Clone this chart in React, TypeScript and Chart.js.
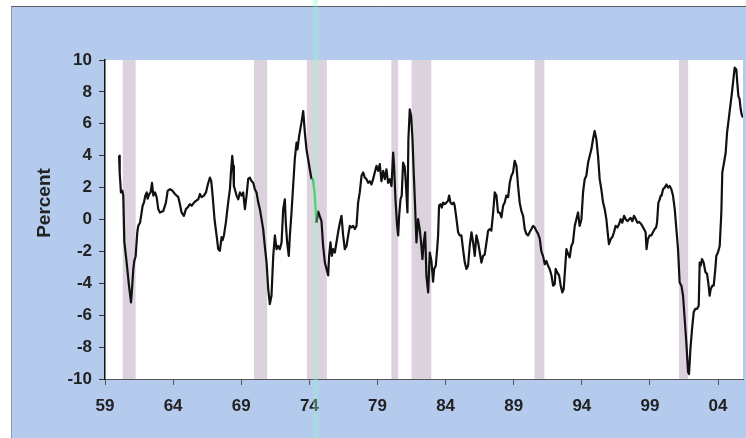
import React, { useEffect, useRef } from 'react';
import { Chart, registerables } from 'chart.js';

Chart.register(...registerables);

// decimal years of the readings
const dates = [
  1960.03, 1960.08, 1960.17, 1960.27, 1960.34, 1960.42, 1960.59, 1960.76, 1960.91, 1961.0,
  1961.08, 1961.15, 1961.25, 1961.37, 1961.44, 1961.57, 1961.67, 1961.76, 1961.86, 1961.96,
  1962.06, 1962.13, 1962.25, 1962.35, 1962.45, 1962.55, 1962.67, 1962.79, 1962.91, 1963.03,
  1963.28, 1963.47, 1963.6, 1963.77, 1963.96, 1964.13, 1964.38, 1964.5, 1964.62, 1964.79,
  1964.94, 1965.06, 1965.23, 1965.36, 1965.53, 1965.67, 1965.85, 1965.97, 1966.09, 1966.26,
  1966.41, 1966.55, 1966.7, 1966.8, 1966.9, 1967.04, 1967.19, 1967.31, 1967.43, 1967.56,
  1967.63, 1967.73, 1967.87, 1968.04, 1968.17, 1968.24, 1968.34, 1968.41, 1968.46, 1968.56,
  1968.66, 1968.78, 1968.9, 1969.02, 1969.14, 1969.27, 1969.39, 1969.51, 1969.63, 1969.76,
  1969.88, 1970.0, 1970.12, 1970.25, 1970.37, 1970.49, 1970.61, 1970.73, 1970.86, 1970.98,
  1971.1, 1971.22, 1971.35, 1971.47, 1971.59, 1971.71, 1971.83, 1971.96, 1972.08, 1972.2,
  1972.27, 1972.37, 1972.49, 1972.57, 1972.69, 1972.81, 1972.93, 1973.06, 1973.13, 1973.25,
  1973.42, 1973.55, 1973.67, 1973.79, 1973.91, 1974.03, 1974.16, 1974.28, 1974.4, 1974.52,
  1974.65, 1974.77, 1974.89, 1975.01, 1975.14, 1975.26, 1975.38, 1975.45, 1975.55, 1975.65,
  1975.75, 1975.87, 1975.99, 1976.11, 1976.24, 1976.36, 1976.48, 1976.6, 1976.73, 1976.85,
  1976.97, 1977.09, 1977.21, 1977.34, 1977.46, 1977.58, 1977.7, 1977.83, 1977.95, 1978.07,
  1978.19, 1978.32, 1978.44, 1978.56, 1978.68, 1978.8, 1978.93, 1979.05, 1979.17, 1979.29,
  1979.42, 1979.54, 1979.66, 1979.78, 1979.9, 1980.03, 1980.15, 1980.22, 1980.32, 1980.44,
  1980.52, 1980.59, 1980.69, 1980.78, 1980.88, 1981.0, 1981.08, 1981.2, 1981.27, 1981.37,
  1981.47, 1981.57, 1981.66, 1981.76, 1981.86, 1981.98, 1982.1, 1982.2, 1982.3, 1982.4,
  1982.5, 1982.59, 1982.72, 1982.84, 1982.96, 1983.08, 1983.16, 1983.28, 1983.38, 1983.45,
  1983.52, 1983.62, 1983.72, 1983.82, 1983.94, 1984.06, 1984.18, 1984.26, 1984.36, 1984.48,
  1984.6, 1984.67, 1984.8, 1984.92, 1985.04, 1985.16, 1985.28, 1985.41, 1985.53, 1985.65,
  1985.77, 1985.9, 1986.02, 1986.14, 1986.26, 1986.39, 1986.51, 1986.63, 1986.75, 1986.87,
  1987.0, 1987.12, 1987.24, 1987.36, 1987.49, 1987.61, 1987.73, 1987.85, 1987.97, 1988.1,
  1988.22, 1988.34, 1988.46, 1988.59, 1988.71, 1988.83, 1988.95, 1989.07, 1989.2, 1989.32,
  1989.44, 1989.56, 1989.69, 1989.81, 1989.93, 1990.05, 1990.17, 1990.3, 1990.42, 1990.54,
  1990.66, 1990.79, 1990.91, 1991.03, 1991.15, 1991.28, 1991.4, 1991.52, 1991.64, 1991.77,
  1991.89, 1992.01, 1992.08, 1992.18, 1992.33, 1992.45, 1992.57, 1992.67, 1992.77, 1992.87,
  1992.99, 1993.11, 1993.23, 1993.35, 1993.48, 1993.6, 1993.72, 1993.84, 1993.97, 1994.09,
  1994.21, 1994.33, 1994.46, 1994.58, 1994.7, 1994.82, 1994.94, 1995.07, 1995.19, 1995.31,
  1995.43, 1995.56, 1995.68, 1995.8, 1995.92, 1995.99, 1996.12, 1996.24, 1996.36, 1996.48,
  1996.61, 1996.73, 1996.85, 1996.97, 1997.1, 1997.22, 1997.34, 1997.46, 1997.58, 1997.71,
  1997.83, 1997.95, 1998.07, 1998.2, 1998.32, 1998.44, 1998.56, 1998.68, 1998.75, 1998.85,
  1998.98, 1999.1, 1999.22, 1999.35, 1999.45, 1999.52, 1999.62, 1999.72, 1999.79, 1999.86,
  1999.96, 2000.08, 2000.21, 2000.33, 2000.45, 2000.57, 2000.69, 2000.82, 2000.94, 2001.06,
  2001.18, 2001.31, 2001.43, 2001.55, 2001.67, 2001.8, 2001.87, 2001.97, 2002.09, 2002.21,
  2002.33, 2002.46, 2002.58, 2002.65, 2002.72, 2002.82, 2002.94, 2003.07, 2003.19, 2003.31,
  2003.38, 2003.46, 2003.58, 2003.68, 2003.8, 2003.87, 2003.99, 2004.12, 2004.24, 2004.31,
  2004.44, 2004.56, 2004.66, 2004.78, 2004.9, 2005.02, 2005.15, 2005.22, 2005.34, 2005.41,
  2005.49, 2005.58, 2005.66, 2005.73, 2005.83,
];

// percent
const spread = [
  4.0, 2.9, 1.7, 1.8, 1.5, -1.4, -2.7, -4.15, -5.2, -4.15,
  -3.1, -2.6, -2.3, -0.8, -0.4, -0.2, 0.33, 0.86, 1.06, 1.5,
  1.7, 1.3, 1.6, 1.7, 2.3, 1.5, 1.7, 1.4, 0.65, 0.44,
  0.54, 1.06, 1.8, 1.9, 1.8, 1.6, 1.4, 0.96, 0.44, 0.23,
  0.65, 0.75, 0.96, 0.86, 1.06, 1.17, 1.27, 1.6, 1.4, 1.5,
  1.7, 2.2, 2.63, 2.4, 1.5, 0.0, -1.0, -1.86, -1.96, -1.1,
  -1.3, -1.0, -0.2, 1.06, 1.9, 2.9, 3.99, 3.36, 2.1, 1.8,
  1.5, 1.27, 1.7, 1.5, 1.7, 0.65, 1.5, 2.53, 2.63, 2.4,
  2.3, 1.9, 1.7, 1.06, 0.65, 0.02, -0.6, -1.66, -2.7, -4.36,
  -5.3, -4.78, -2.28, -1.0, -1.86, -1.66, -1.86, -1.44, 0.65, 1.27,
  -0.2, -1.44, -2.28, -1.0, 0.44, 2.1, 3.78, 4.82, 4.4, 5.24,
  6.07, 6.8, 5.45, 4.4, 3.78, 3.15, 2.53, 2.5, 1.5, -0.2,
  0.5, 0.2, -0.1, -1.66, -2.7, -3.1, -3.5, -2.28, -1.44, -2.28,
  -1.86, -2.07, -1.44, -0.8, -0.2, 0.23, -1.0, -1.86, -1.66, -1.0,
  -0.4, -0.5, -0.4, -0.6, -0.4, 1.06, 1.7, 2.74, 2.95, 2.63,
  2.53, 2.3, 2.4, 2.2, 2.53, 2.95, 3.36, 3.05, 3.47, 2.4,
  3.05, 2.53, 3.15, 2.3, 2.53, 2.1, 4.2, 3.36, 1.27, -0.4,
  -1.0, 0.23, 1.27, 1.5, 3.57, 3.3, 2.3, 0.44, 5.03, 6.9,
  6.49, 5.03, 2.95, 0.86, -1.44, 0.02, -0.6, -1.44, -2.48, -1.44,
  -0.8, -3.5, -4.57, -2.07, -2.6, -3.9, -3.1, -2.9, -1.86, -1.0,
  0.86, 0.96, 0.75, 1.06, 0.96, 1.06, 1.17, 1.5, 1.06, 0.96,
  1.06, 0.86, 0.02, -0.8, -1.0, -1.0, -1.86, -2.7, -3.1, -2.9,
  -1.66, -0.8, -1.44, -2.28, -1.0, -1.44, -2.07, -2.7, -2.28, -2.2,
  -1.44, -0.7, -0.6, -0.7, 0.44, 1.7, 1.5, 0.44, 0.44, 0.13,
  0.86, 1.06, 1.5, 1.4, 2.3, 2.74, 2.95, 3.67, 3.36, 2.1,
  1.06, 0.54, 0.23, -0.6, -0.9, -1.0, -0.8, -0.6, -0.4, -0.5,
  -0.7, -0.9, -1.2, -2.0, -2.28, -2.8, -2.6, -2.9, -3.1, -3.5,
  -4.15, -4.05, -3.1, -3.3, -3.5, -4.15, -4.57, -4.36, -3.1, -1.86,
  -2.17, -2.38, -1.66, -1.44, -0.4, 0.02, 0.44, -0.4, 0.02, 1.7,
  2.53, 2.74, 3.57, 3.99, 4.4, 5.03, 5.55, 5.03, 3.99, 2.53,
  1.9, 1.06, 0.65, 0.02, -1.0, -1.55, -1.23, -1.1, -0.8, -0.4,
  -0.5, -0.3, 0.02, -0.2, 0.23, 0.02, -0.1, 0.0, 0.1, -0.1,
  0.23, 0.05, -0.2, -0.15, -0.25, -0.4, -0.6, -0.8, -1.86, -1.23,
  -1.0, -1.0, -0.8, -0.6, -0.5, -0.2, 1.06, 1.27, 1.5, 1.5,
  1.9, 2.0, 2.2, 2.0, 2.1, 1.9, 1.5, 0.65, -0.6, -1.86,
  -3.95, -4.15, -4.78, -6.24, -7.7, -9.58, -9.69, -8.1, -6.87, -5.82,
  -5.6, -5.6, -5.4, -2.7, -2.9, -2.48, -2.7, -3.3, -3.4, -4.15,
  -4.78, -4.36, -4.15, -4.15, -3.1, -2.28, -2.07, -1.66, 0.44, 2.95,
  3.57, 4.2, 5.45, 6.28, 7.12, 7.95, 9.0, 9.52, 9.41, 8.58,
  7.75, 7.54, 6.91, 6.6, 6.39,
];

// shaded recession periods [start, end]
const recessions: [number, number][] = [
  [1960.3, 1961.25],
  [1969.93, 1970.9],
  [1973.82, 1975.28],
  [1980.02, 1980.52],
  [1981.5, 1982.95],
  [1990.53, 1991.25],
  [2001.13, 2001.8],
];

const xTickYears = [1959, 1964, 1969, 1974, 1979, 1984, 1989, 1994, 1999, 2004];
const yAxisTitle = 'Percent';

const FONT = '"Liberation Sans", Arial, sans-serif';
const BLUE = '#b4cbee';
const BAND = '#dcd2de';

const backdrop = {
  id: 'backdrop',
  beforeDraw(chart: any) {
    const { ctx, chartArea, scales } = chart;
    const { width, height } = chart;
    ctx.save();
    ctx.fillStyle = '#ffffff';
    ctx.fillRect(0, 0, width, height);
    ctx.fillStyle = BLUE;
    ctx.fillRect(12, 6, width - 12, height - 6);
    ctx.strokeStyle = '#8d99b0';
    ctx.lineWidth = 1;
    ctx.beginPath();
    ctx.moveTo(11.5, 6);
    ctx.lineTo(11.5, height);
    ctx.stroke();
    ctx.strokeStyle = '#5a5f68';
    ctx.beginPath();
    ctx.moveTo(11, 6.5);
    ctx.lineTo(width, 6.5);
    ctx.stroke();

    ctx.fillStyle = '#ffffff';
    ctx.fillRect(chartArea.left, chartArea.top, chartArea.right - chartArea.left, chartArea.bottom - chartArea.top);

    const x = scales.x;
    ctx.fillStyle = BAND;
    recessions.forEach(([a, b]) => {
      const x0 = x.getPixelForValue(a);
      const x1 = x.getPixelForValue(b);
      ctx.fillRect(x0, chartArea.top, x1 - x0, chartArea.bottom - chartArea.top);
    });
    ctx.restore();
  },
  afterDraw(chart: any) {
    const { ctx, scales, height } = chart;
    ctx.save();
    // y-axis title
    ctx.translate(45, 203);
    ctx.rotate(-Math.PI / 2);
    ctx.font = `bold 19px ${FONT}`;
    ctx.fillStyle = '#222';
    ctx.textAlign = 'center';
    ctx.textBaseline = 'middle';
    ctx.fillText(yAxisTitle, 0, 0);
    ctx.restore();

    // faint scan streak
    ctx.save();
    const sx = scales.x.getPixelForValue(1974.45);
    ctx.fillStyle = 'rgba(150, 245, 200, 0.35)';
    ctx.fillRect(sx - 2.5, 0, 5, height);
    ctx.restore();
  },
};

const App: React.FC = () => {
  const chartRef = useRef<HTMLCanvasElement>(null);
  const chartInstance = useRef<Chart | null>(null);

  useEffect(() => {
    if (!chartRef.current) return;
    if (chartInstance.current) {
      chartInstance.current.destroy();
    }
    const ctx = chartRef.current.getContext('2d');
    if (!ctx) return;

    const points = dates.map((d, i) => ({ x: d, y: spread[i] }));

    chartInstance.current = new Chart(ctx, {
      type: 'line',
      data: {
        datasets: [
          {
            data: points,
            borderColor: '#111111',
            borderWidth: 2.2,
            borderJoinStyle: 'round',
            pointRadius: 0,
            tension: 0,
            segment: {
              // green stretch where the scan streak crosses the line
              borderColor: (c: any) =>
                c.p0.parsed.x >= 1974.15 && c.p1.parsed.x <= 1974.53 ? '#2fb84a' : undefined,
            },
          },
        ],
      },
      options: {
        animation: false,
        responsive: true,
        maintainAspectRatio: false,
        layout: { padding: { left: 12, top: 60, right: 3, bottom: 0 } },
        plugins: {
          legend: { display: false },
          tooltip: { enabled: false },
        },
        scales: {
          x: {
            type: 'linear',
            min: 1959,
            max: 2005.83,
            afterBuildTicks: (scale: any) => {
              scale.ticks = xTickYears.map(v => ({ value: v }));
            },
            afterFit: (scale: any) => {
              scale.height = 59;
            },
            ticks: {
              autoSkip: false,
              maxRotation: 0,
              padding: 11,
              color: '#222',
              font: { family: FONT, size: 17, weight: 'bold' },
              callback: (v: any) => String(Number(v) % 100).padStart(2, '0'),
            },
            grid: { drawOnChartArea: false, tickLength: 6, color: '#555' },
            border: { display: true, color: '#555', width: 1 },
          },
          y: {
            min: -10,
            max: 10,
            afterFit: (scale: any) => {
              scale.width = 93;
            },
            ticks: {
              stepSize: 2,
              padding: 7,
              color: '#222',
              font: { family: FONT, size: 17, weight: 'bold' },
            },
            grid: { drawOnChartArea: false, tickLength: 6, color: '#333' },
            border: { display: true, color: '#111', width: 1.5 },
          },
        },
      },
      plugins: [backdrop],
    });

    return () => {
      if (chartInstance.current) {
        chartInstance.current.destroy();
        chartInstance.current = null;
      }
    };
  }, []);

  return (
    <div style={{ position: 'fixed', left: 0, top: 0, width: 746, height: 438 }}>
      <canvas ref={chartRef}></canvas>
    </div>
  );
};

export default App;
